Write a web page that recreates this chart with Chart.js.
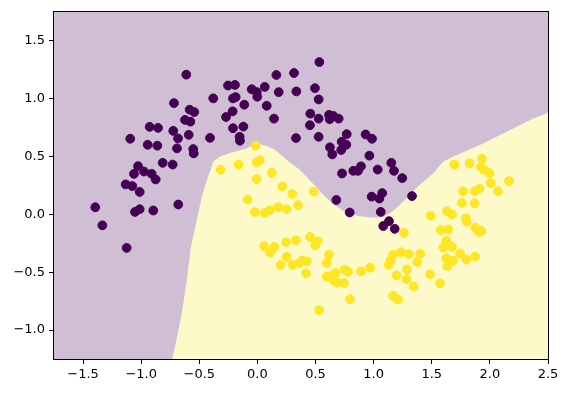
<!DOCTYPE html>
<html>
<head>
<meta charset="utf-8">
<script src="https://cdn.jsdelivr.net/npm/chart.js@4/dist/chart.umd.min.js"></script>
<style>
  body { margin: 0; background: #ffffff; }
  #grafico { display: block; }
</style>
</head>
<body>
<canvas id="grafico" width="570" height="393"></canvas>
<script>
// tick positions
const xTicks = [-1.5, -1.0, -0.5, 0.0, 0.5, 1.0, 1.5, 2.0, 2.5];
const yTicks = [-1.0, -0.5, 0.0, 0.5, 1.0, 1.5];

// class 0 (purple) samples
const clase0 = [
  [-0.612,1.207],[-0.380,1.002],[-0.270,0.841],[-0.718,0.961],[-0.583,0.904],[-0.543,0.884],
  [-0.623,0.816],[-0.577,0.801],[-0.927,0.756],[-0.855,0.747],[-0.724,0.721],[-0.683,0.656],
  [-0.591,0.687],[-0.408,0.661],[-1.094,0.653],[-0.944,0.601],[-0.861,0.593],[-0.692,0.570],
  [-0.552,0.564],[-0.548,0.527],[-0.815,0.445],[-0.729,0.430],[-1.027,0.416],[-1.062,0.350],
  [-0.976,0.370],[-0.910,0.350],[-0.875,0.301],[-1.133,0.259],[-1.076,0.244],
  [-1.013,0.193],[-1.395,0.061],[-1.053,0.021],[-1.013,0.044],[-0.896,0.033],[-0.681,0.085],
  [-1.334,-0.095],[-1.125,-0.290],
  [0.533,1.316],[0.163,1.204],[0.315,1.221],[-0.253,1.113],[-0.193,1.118],[-0.049,1.081],
  [0.063,1.101],[-0.006,1.056],[-0.001,1.016],[0.183,1.056],[0.335,1.062],[0.495,1.090],
  [-0.210,1.002],[-0.187,1.013],[-0.113,0.947],[0.080,0.938],[0.527,0.993],[-0.213,0.890],
  [0.143,0.827],[0.455,0.870],[0.527,0.827],[0.616,0.859],[0.653,0.850],[0.699,0.827],
  [0.622,0.822],[0.452,0.770],[-0.210,0.744],[-0.121,0.758],[-0.153,0.670],[-0.150,0.636],
  [0.332,0.659],[0.527,0.670],[0.768,0.693],[0.931,0.690],[0.986,0.653],[0.725,0.627],
  [0.765,0.601],[0.721,0.556],[0.624,0.579],[0.644,0.518],[0.963,0.507],[0.728,0.353],
  [0.825,0.376],[0.865,0.376],[0.891,0.415],[1.035,0.387],
  [0.679,0.124],[0.794,0.016],[0.983,0.153],[1.049,0.136],[1.074,0.184],[1.061,0.021],
  [1.083,-0.101],
  [1.152,0.445],[1.175,0.376],[1.246,0.313],[1.330,0.158],[1.132,-0.059],[1.181,-0.125]
];

// class 1 (yellow) samples
const clase1 = [
  [-0.316,0.385],[-0.015,0.593],[0.020,0.467],[-0.006,0.450],[-0.162,0.430],[0.123,0.359],
  [-0.006,0.304],[0.214,0.241],[0.300,0.176],[0.484,0.196],[-0.084,0.128],[0.349,0.079],
  [-0.023,0.019],[0.063,0.013],[0.108,0.036],[0.180,0.061],[0.252,0.044],[0.057,-0.275],
  [0.145,-0.281],[0.108,-0.330],[0.246,-0.241],[0.332,-0.224],[0.452,-0.196],[0.519,-0.233],
  [0.498,-0.267],[0.252,-0.367],[0.200,-0.438],[0.303,-0.436],[0.360,-0.421],[0.386,-0.399],
  [0.424,-0.407],[0.418,-0.510],[0.616,-0.347],[0.596,-0.419],[0.596,-0.538],[0.636,-0.530],
  [0.673,-0.507],[0.659,-0.573],[0.682,-0.587],[0.745,-0.593],[0.751,-0.476],[0.779,-0.496],
  [0.891,-0.493],[0.969,-0.461],[0.796,-0.733],[0.530,-0.827],
  [1.694,0.430],[1.826,0.441],[1.932,0.479],[1.923,0.407],[1.949,0.385],[1.998,0.356],
  [2.007,0.270],[2.164,0.287],
  [1.769,0.199],[1.869,0.199],[1.912,0.222],[2.070,0.199],[1.760,0.099],[1.869,0.096],
  [1.491,-0.013],[1.631,0.027],[1.674,-0.001],[1.794,-0.035],[1.800,-0.064],[1.874,-0.116],
  [1.906,-0.153],[1.926,-0.144],[1.577,-0.136],[1.642,-0.130],[1.261,-0.159],[1.625,-0.230],
  [1.599,-0.287],[1.674,-0.281],[1.235,-0.327],[1.304,-0.344],[1.401,-0.341],[1.166,-0.350],
  [1.147,-0.396],[1.129,-0.436],[1.375,-0.413],[1.625,-0.378],[1.683,-0.401],[1.634,-0.447],
  [1.743,-0.339],[1.797,-0.390],[1.874,-0.364],[1.287,-0.476],[1.198,-0.527],[1.284,-0.561],
  [1.344,-0.624],[1.485,-0.519],[1.571,-0.596],[1.166,-0.704],[1.209,-0.736]
];

// decision boundary (class 1 region lies below it)
const frontera = [
  [-0.732,-1.25],[-0.692,-1.061],[-0.651,-0.856],[-0.608,-0.573],[-0.574,-0.290],[-0.511,0.0],
  [-0.477,0.156],[-0.442,0.276],[-0.408,0.370],[-0.378,0.456],[-0.322,0.499],[-0.236,0.529],
  [-0.098,0.567],[-0.012,0.614],[0.074,0.593],[0.151,0.559],[0.211,0.507],[0.280,0.447],
  [0.366,0.383],[0.478,0.267],[0.564,0.173],[0.650,0.087],[0.768,0.013],[0.882,-0.016],
  [0.994,-0.030],[1.080,-0.024],[1.166,0.027],[1.284,0.139],[1.373,0.233],[1.513,0.355],
  [1.599,0.456],[1.714,0.513],[1.943,0.613],[2.087,0.685],[2.231,0.756],[2.373,0.827],[2.5,0.878]
];

const xMin = -1.75, xMax = 2.5, yMin = -1.25, yMax = 1.75;
const fuente = { family: "DejaVu Sans", size: 13 };

function etiqueta(v){
    return Number(v).toFixed(1).replace("-", "\u2212");
}

const fondoYMarco = {
    id: "fondoYMarco",
    beforeDatasetsDraw(chart){
        const a = chart.chartArea, ctx = chart.ctx;
        ctx.save();
        ctx.fillStyle = "rgb(208,191,212)";
        ctx.fillRect(a.left, a.top, a.right - a.left, a.bottom - a.top);
        ctx.restore();
    },
    afterDraw(chart){
        const a = chart.chartArea, ctx = chart.ctx;
        ctx.save();
        ctx.strokeStyle = "#000";
        ctx.lineWidth = 1;
        ctx.strokeRect(Math.round(a.left) - 0.5, Math.round(a.top) - 0.5,
                       Math.round(a.right - a.left) + 1, Math.round(a.bottom - a.top) + 1);
        ctx.restore();
    }
};

let ctx = document.getElementById("grafico").getContext("2d");
let grafico = new Chart(ctx, {
    type: "scatter",
    data: {
        datasets: [
            {
                label: "clase 0",
                data: clase0.map(p => ({x: p[0], y: p[1]})),
                backgroundColor: "#440154",
                borderColor: "#440154",
                borderWidth: 1,
                pointRadius: 4.4,
                order: 0
            },
            {
                label: "clase 1",
                data: clase1.map(p => ({x: p[0], y: p[1]})),
                backgroundColor: "#fde725",
                borderColor: "#fde725",
                borderWidth: 1,
                pointRadius: 4.4,
                order: 0
            },
            {
                type: "line",
                label: "frontera",
                data: frontera.map(p => ({x: p[0], y: p[1]})),
                borderWidth: 0,
                borderColor: "rgba(0,0,0,0)",
                backgroundColor: "rgb(254,249,200)",
                pointRadius: 0,
                fill: "start",
                tension: 0,
                order: 5
            }
        ]
    },
    options: {
        responsive: false,
        animation: false,
        devicePixelRatio: 1,
        layout: { padding: { top: 9, right: 22, left: 0, bottom: 0 } },
        plugins: {
            legend: { display: false },
            tooltip: { enabled: false }
        },
        scales: {
            x: {
                type: "linear",
                min: xMin,
                max: xMax,
                afterBuildTicks: s => { s.ticks = xTicks.map(v => ({value: v})); },
                afterFit: s => { s.height = 34; },
                border: { display: false },
                grid: { drawOnChartArea: false, drawTicks: true, tickLength: 5, color: "#000" },
                ticks: { color: "#000", font: fuente, padding: 3, maxRotation: 0, callback: etiqueta }
            },
            y: {
                type: "linear",
                min: yMin,
                max: yMax,
                afterBuildTicks: s => { s.ticks = yTicks.map(v => ({value: v})); },
                afterFit: s => { s.width = 54; },
                border: { display: false },
                grid: { drawOnChartArea: false, drawTicks: true, tickLength: 5, color: "#000" },
                ticks: { color: "#000", font: fuente, padding: 4, callback: etiqueta }
            }
        }
    },
    plugins: [fondoYMarco]
});
</script>
</body>
</html>
